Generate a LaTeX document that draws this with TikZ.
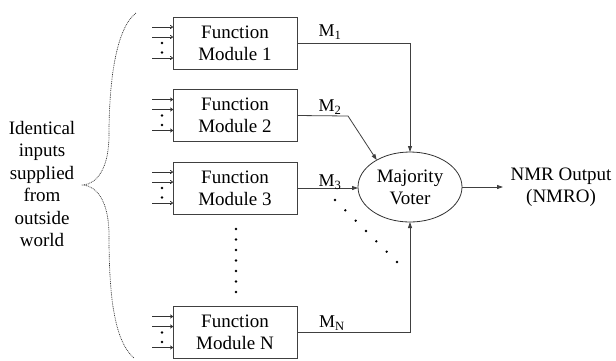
\documentclass[tikz,border=0pt]{standalone}
\usepackage{fontspec}
\setmainfont{Liberation Serif}
\usetikzlibrary{shapes.geometric,arrows.meta,calc}
\begin{document}
\begin{tikzpicture}[x=1pt,y=-1pt,
  every node/.style={font=\fontsize{19}{22}\selectfont, outer sep=0pt},
  fmod/.style={draw=black!75, line width=0.8pt, minimum width=124pt, minimum height=52pt, align=center, inner sep=0pt},
  voter/.style={ellipse, draw=black!80, line width=0.8pt, minimum width=104pt, minimum height=70pt, align=center, inner sep=0pt},
  conn/.style={draw=black!75, line width=0.8pt, -{Triangle[length=6pt,width=4pt]}},
  inarr/.style={draw=black!80, line width=0.8pt, -{To[length=3pt,width=4pt]}},
  plain/.style={draw=black!75, line width=0.8pt},
  lbl/.style={inner sep=0pt, font=\fontsize{18}{20}\selectfont},
  dotmark/.style={fill=black, draw=none, circle, minimum size=2.6pt, inner sep=0pt},
  brace/.style={draw=black!80, line width=0.7pt, dash pattern=on 0.9pt off 0.9pt}
]
\useasboundingbox (0,0) rectangle (616,360);

% modules
\node[fmod] (m1) at (235,43) {Function\\Module 1};
\node[fmod] (m2) at (235,115.5) {Function\\Module 2};
\node[fmod] (m3) at (235,188) {Function\\Module 3};
\node[fmod] (mN) at (235,332.5) {Function\\Module N};

% voter
\node[voter] (mv) at (410,187) {Majority\\Voter};

% output
\node[align=center, inner sep=0pt] (out) at (561,187) {NMR Output\\(NMRO)};

% left text
\node[align=center, inner sep=0pt, font=\fontsize{19}{22.5}\selectfont] (idt) at (42,184) {Identical\\inputs\\supplied\\from\\outside\\world};

% input arrows and dots
\foreach \m in {m1,m2,m3,mN}{
  \coordinate (\m a1) at ($(\m.north west)+(-21,10)$);
  \coordinate (\m a2) at ($(\m.north west)+(-21,20)$);
  \coordinate (\m a3) at ($(\m.north west)+(-21,41)$);
  \draw[inarr] (\m a1) -- (\m a1 -| \m.west);
  \draw[inarr] (\m a2) -- (\m a2 -| \m.west);
  \draw[inarr] (\m a3) -- (\m a3 -| \m.west);
  \node[dotmark] (\m d1) at ($(\m.north west)+(-11,26)$) {};
  \node[dotmark] (\m d2) at ($(\m.north west)+(-11,35.5)$) {};
}

% connectors
\draw[conn] (m1.east) -| (mv.north);
\coordinate (m2bend) at (348,116);
\draw[conn] (m2.east) -- (m2bend) -- (mv.141);
\draw[conn] (m3.east) -- (m3.east -| mv.west);
\draw[conn] (mN.east) -| (mv.south);
\draw[conn] (mv.east) -- (out.west -| 503,0);

% labels
\node[lbl] (l1) at (330,32) {M\textsubscript{1}};
\node[lbl] (l2) at (330,107) {M\textsubscript{2}};
\node[lbl] (l3) at (330,182) {M\textsubscript{3}};
\node[lbl] (lN) at (332,323) {M\textsubscript{N}};

% vertical dots
\foreach \i in {0,...,6}{
  \node[dotmark] (vd\i) at (236,{229+10.5*\i}) {};
}
% diagonal dots
\foreach \i in {0,...,6}{
  \node[dotmark] (dd\i) at ({335+10.33*\i},{200+10.33*\i}) {};
}

% brace
\draw[brace] (136,13) .. controls (114,30) and (109,90) .. (109,135)
  .. controls (109,168) and (97,184) .. (83,185)
  .. controls (97,186) and (109,202) .. (109,235)
  .. controls (109,290) and (113,340) .. (134,358);
\end{tikzpicture}
\end{document}
